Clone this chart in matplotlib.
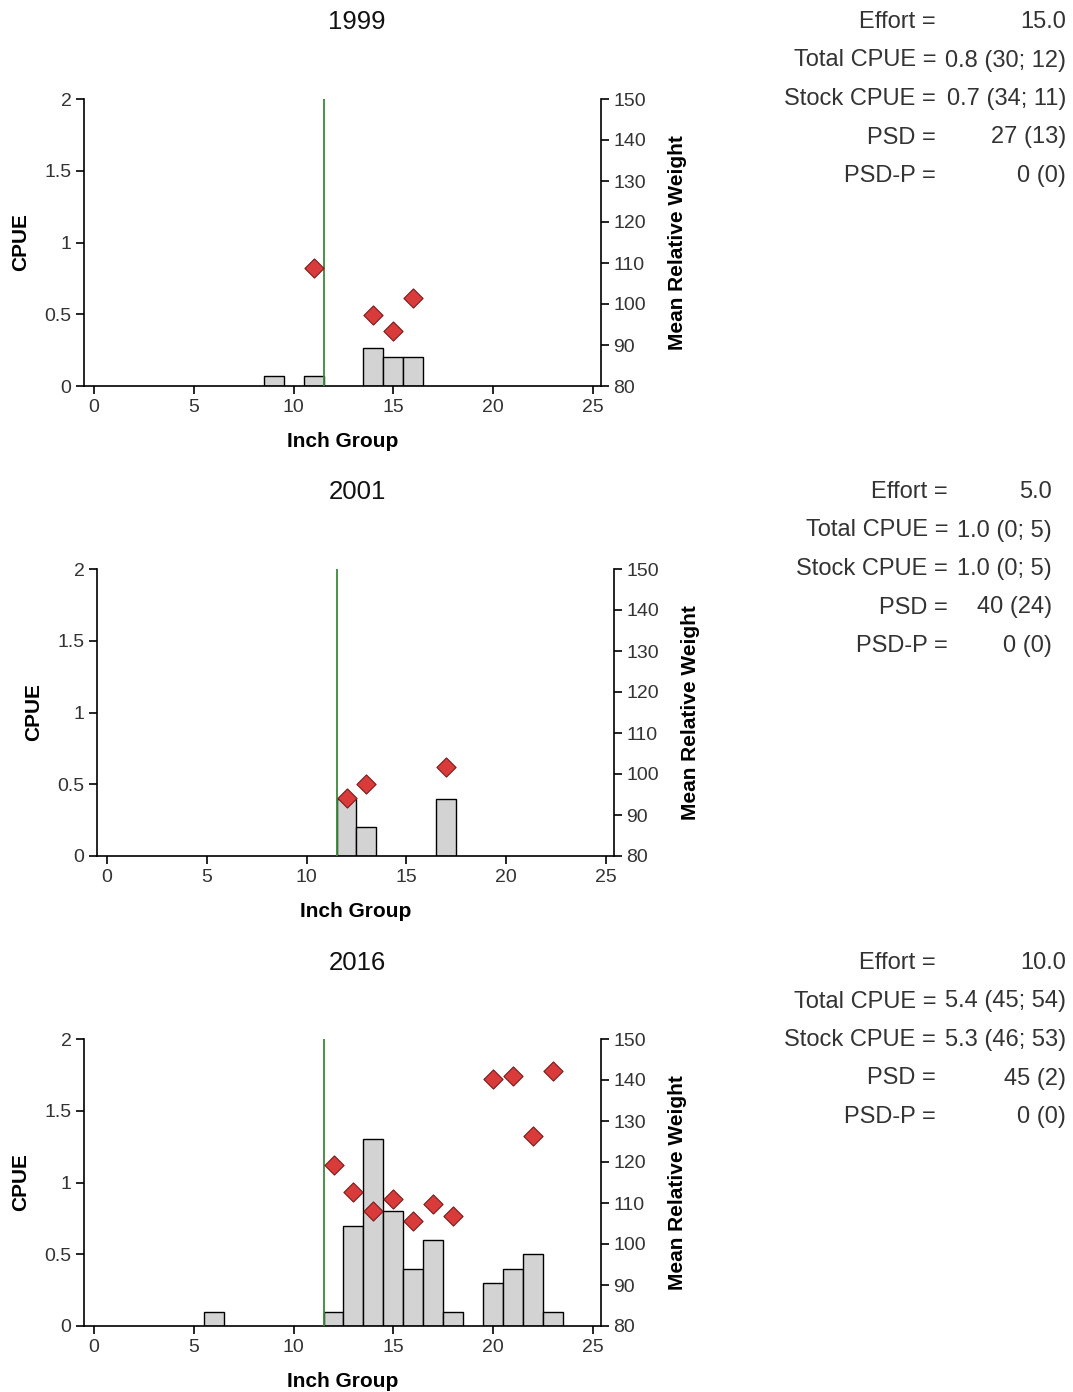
import matplotlib
matplotlib.use("Agg")
import matplotlib.pyplot as plt

plt.rcParams['font.family'] = ['Liberation Sans', 'DejaVu Sans']

W, H = 1073, 1392

# ─────────────────────────
# DATA
# ─────────────────────────
years = ["1999", "2001", "2016"]

bar_x_1999 = [9, 11, 14, 15, 16]
bar_y_1999 = [0.067, 0.067, 0.267, 0.2, 0.2]
wr_x_1999 = [11, 14, 15, 16]
wr_y_1999 = [108.9, 97.3, 93.5, 101.4]

bar_x_2001 = [12, 13, 17]
bar_y_2001 = [0.4, 0.2, 0.4]
wr_x_2001 = [12, 13, 17]
wr_y_2001 = [94.2, 97.5, 101.8]

bar_x_2016 = [6, 12, 13, 14, 15, 16, 17, 18, 20, 21, 22, 23]
bar_y_2016 = [0.1, 0.1, 0.7, 1.3, 0.8, 0.4, 0.6, 0.1, 0.3, 0.4, 0.5, 0.1]
wr_x_2016 = [12, 13, 14, 15, 16, 17, 18, 20, 21, 22, 23]
wr_y_2016 = [119.3, 112.8, 108.1, 111.0, 105.5, 109.8, 106.9, 140.3, 140.9, 126.4, 142.3]

stock_length = 11.5

stat_labels = ["Effort =", "Total CPUE =", "Stock CPUE =", "PSD =", "PSD-P ="]
stats_1999 = ["15.0", "0.8 (30; 12)", "0.7 (34; 11)", "27 (13)", "0 (0)"]
stats_2001 = ["5.0", "1.0 (0; 5)", "1.0 (0; 5)", "40 (24)", "0 (0)"]
stats_2016 = ["10.0", "5.4 (45; 54)", "5.3 (46; 53)", "45 (2)", "0 (0)"]

panels = [
    (bar_x_1999, bar_y_1999, wr_x_1999, wr_y_1999, stats_1999),
    (bar_x_2001, bar_y_2001, wr_x_2001, wr_y_2001, stats_2001),
    (bar_x_2016, bar_y_2016, wr_x_2016, wr_y_2016, stats_2016),
]

# layout in pixels: (axes left, axes right, axes top, axes bottom, title y, stats right edge, label right edge)
layout = [
    (84, 601, 99, 386, 22, 1066, 936),
    (97, 614, 569, 856, 492, 1052, 948),
    (84, 601, 1039, 1326, 963, 1066, 936),
]

TXT = '#333333'

fig = plt.figure(figsize=(W / 100, H / 100), dpi=100)
fig.patch.set_facecolor('white')

for (bx, by, wx, wy, stats), year, (l, r, t, b, ty, sx, lx) in zip(panels, years, layout):
    ax = fig.add_axes([l / W, 1 - b / H, (r - l) / W, (b - t) / H])
    ax.bar(bx, by, width=1.0, color='#d3d3d3', edgecolor='black', linewidth=1.0, zorder=2)
    ax.axvline(stock_length, color='#3a8a3a', linewidth=1.3, zorder=3)
    ax.set_xlim(-0.5, 25.4)
    ax.set_ylim(0, 2)
    ax.set_xticks([0, 5, 10, 15, 20, 25])
    ax.set_yticks([0, 0.5, 1, 1.5, 2])
    ax.set_yticklabels(["0", "0.5", "1", "1.5", "2"])
    ax.spines['top'].set_visible(False)
    ax.spines['right'].set_visible(False)
    for s in ['left', 'bottom']:
        ax.spines[s].set_linewidth(1.2)
    ax.tick_params(direction='out', length=6, width=1.2, labelsize=14, labelcolor=TXT, pad=3)
    ax.set_xlabel("Inch Group", fontsize=15, fontweight='bold', labelpad=12)
    ax.set_ylabel("CPUE", fontsize=15, fontweight='bold', labelpad=10)

    ax2 = ax.twinx()
    ax2.scatter(wx, wy, marker='D', s=95, color='#d93b3b', edgecolor='#7a1a1a', linewidth=0.8, zorder=4)
    ax2.set_ylim(80, 150)
    ax2.set_yticks(range(80, 151, 10))
    for s in ['top', 'left', 'bottom']:
        ax2.spines[s].set_visible(False)
    ax2.spines['right'].set_linewidth(1.2)
    ax2.tick_params(direction='out', length=6, width=1.2, labelsize=14, labelcolor=TXT, pad=3)
    ax2.set_ylabel("Mean Relative Weight", fontsize=15, fontweight='bold', labelpad=16)

    fig.text(357 / W, 1 - ty / H, year, fontsize=18.5, ha='center', va='center', color='#111111')

    for i, (lab, val) in enumerate(zip(stat_labels, stats)):
        yy = 1 - (ty + i * 38.5) / H
        fig.text(lx / W, yy, lab, fontsize=17, ha='right', va='center', color=TXT)
        fig.text(sx / W, yy, val, fontsize=17, ha='right', va='center', color=TXT)

fig.savefig("out.png", dpi=100)
